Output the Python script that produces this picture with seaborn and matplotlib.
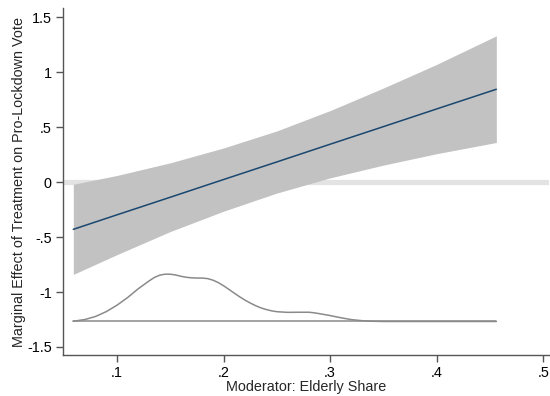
import matplotlib
matplotlib.use("Agg")
import matplotlib.pyplot as plt
import seaborn as sns
import pandas as pd

# Marginal effect estimates
moderator = [0.059, 0.10, 0.15, 0.20, 0.25, 0.30, 0.35, 0.40, 0.456]
effect = [-0.430, -0.298, -0.138, 0.023, 0.183, 0.344, 0.504, 0.665, 0.844]
ci_lower = [-0.84, -0.66, -0.45, -0.265, -0.10, 0.038, 0.154, 0.258, 0.36]
ci_upper = [-0.02, 0.06, 0.175, 0.31, 0.465, 0.65, 0.855, 1.07, 1.33]

# Density of moderator (drawn at bottom)
dens_x = [0.059, 0.07, 0.08, 0.09, 0.10, 0.11, 0.12, 0.13, 0.135, 0.14, 0.145,
          0.15, 0.155, 0.16, 0.165, 0.17, 0.175, 0.18, 0.185, 0.19, 0.195, 0.20,
          0.205, 0.21, 0.215, 0.22, 0.225, 0.23, 0.235, 0.24, 0.245, 0.25, 0.26,
          0.27, 0.28, 0.285, 0.29, 0.30, 0.31, 0.32, 0.33, 0.34, 0.35, 0.40, 0.456]
dens_y = [-1.266, -1.250, -1.222, -1.178, -1.120, -1.050, -0.970, -0.900, -0.868,
          -0.847, -0.838, -0.838, -0.845, -0.857, -0.866, -0.871, -0.873, -0.873,
          -0.878, -0.892, -0.914, -0.943, -0.976, -1.010, -1.043, -1.073, -1.100,
          -1.124, -1.144, -1.159, -1.171, -1.179, -1.185, -1.184, -1.184, -1.189,
          -1.197, -1.214, -1.234, -1.251, -1.261, -1.266, -1.268, -1.268, -1.268]
dens_base = -1.268

xticks = [0.1, 0.2, 0.3, 0.4, 0.5]
xticklabels = [".1", ".2", ".3", ".4", ".5"]
yticks = [-1.5, -1, -0.5, 0, 0.5, 1, 1.5]
yticklabels = ["-1.5", "-1", "-.5", "0", ".5", "1", "1.5"]

sns.set_theme(style="white")
plt.rcParams['font.family'] = ['Liberation Sans', 'DejaVu Sans']

fig = plt.figure(figsize=(5.5, 3.96), dpi=100)
ax = fig.add_axes([0.1145, 0.1035, 0.884, 0.876])

df = pd.DataFrame({"x": moderator, "eff": effect, "lo": ci_lower, "hi": ci_upper})
dd = pd.DataFrame({"x": dens_x, "y": dens_y})

# zero reference band
ax.axhline(0, color="#e3e3e3", lw=3.8, zorder=1)
ax.fill_between(df["x"], df["lo"], df["hi"], color="#c2c2c2", lw=0, zorder=2)
sns.lineplot(data=df, x="x", y="eff", ax=ax, color="#1a476f", lw=1.1, zorder=3)
sns.lineplot(data=dd, x="x", y="y", ax=ax, color="#8a8a8a", lw=1.1, zorder=3)
ax.plot([dens_x[0], dens_x[-1]], [dens_base, dens_base], color="#8a8a8a", lw=1.1, zorder=3)

ax.set_xlim(0.0493, 0.5056)
ax.set_ylim(-1.573, 1.582)
ax.set_xticks(xticks)
ax.set_xticklabels(xticklabels)
ax.set_yticks(yticks)
ax.set_yticklabels(yticklabels)
ax.tick_params(axis="both", direction="out", length=5, width=1, color="#555555",
               labelsize=10.4, labelcolor="black", pad=3)
ax.tick_params(axis="both", which="both", bottom=True, left=True)
for s in ["top", "right"]:
    ax.spines[s].set_visible(False)
for s in ["left", "bottom"]:
    ax.spines[s].set_color("#555555")
    ax.spines[s].set_linewidth(1.0)

ax.set_xlabel("Moderator: Elderly Share", fontsize=10.4, labelpad=0)
ax.set_ylabel("Marginal Effect of Treatment on Pro-Lockdown Vote", fontsize=10.4, labelpad=1)

fig.savefig("out.png", dpi=100)
